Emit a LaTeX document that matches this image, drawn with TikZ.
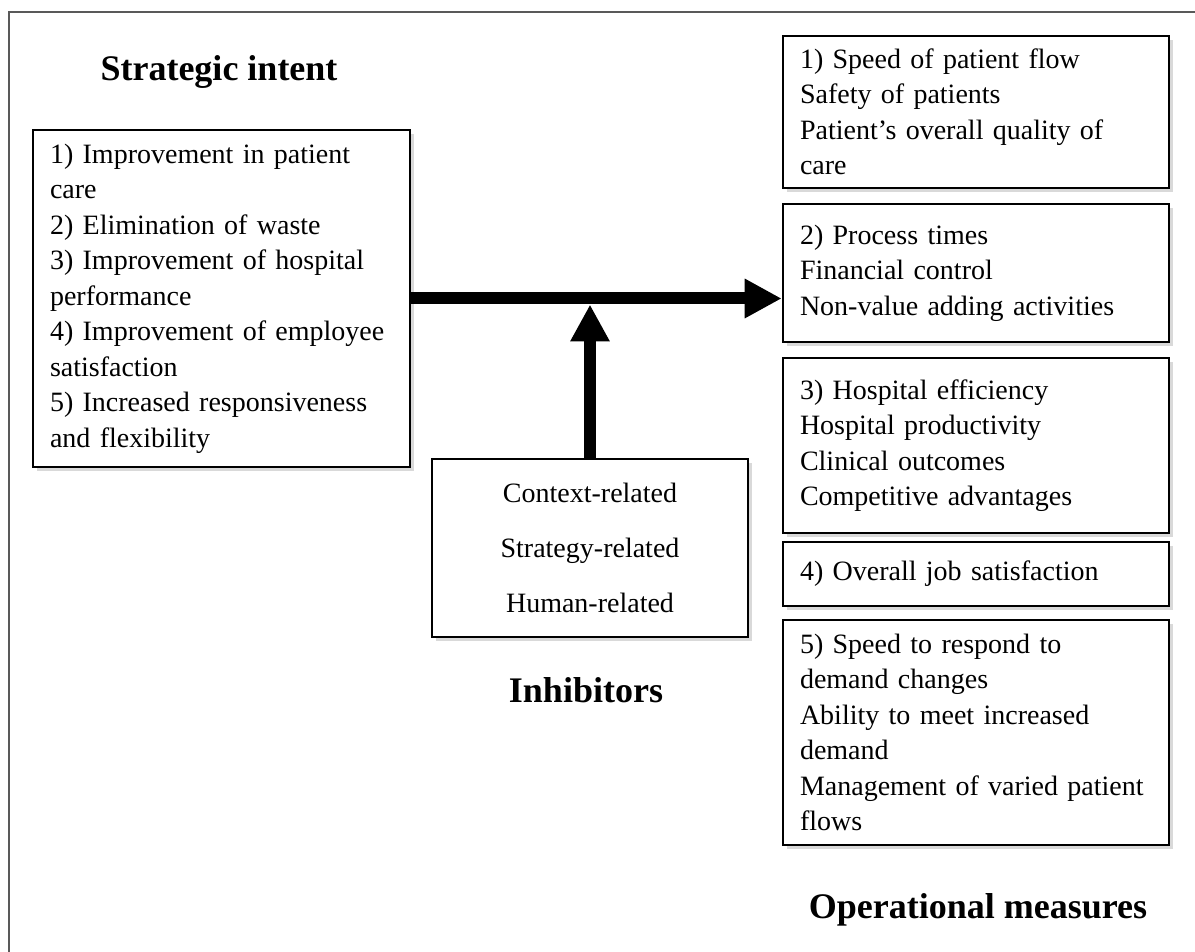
\documentclass[tikz,border=0pt]{standalone}
\usepackage{fontspec}
\setmainfont{Liberation Serif}
\usetikzlibrary{arrows.meta,shadows}
\definecolor{framegray}{RGB}{89,89,89}
\tikzset{
  box/.style={draw,line width=1.3pt,fill=white,inner ysep=4pt,
    execute at begin node={\hyphenpenalty=10000\exhyphenpenalty=10000},
    drop shadow={shadow xshift=1.8pt,shadow yshift=-1.8pt,opacity=0.3}},
  intentbox/.style={box,align=left,inner xsep=8.5pt,text width=171.5pt},
  measbox/.style={box,align=left,inner xsep=8.5pt,text width=176pt},
  inhibbox/.style={box,align=center,inner xsep=10pt,text width=138pt,
    font=\fontsize{14pt}{27.5pt}\selectfont},
  title/.style={font=\fontsize{18pt}{21pt}\selectfont\bfseries},
  fatarrow/.style={line width=6pt,-{Triangle[length=18.5pt,width=18.5pt]}}
}
\begin{document}
\begin{tikzpicture}[x=0.5pt,y=-0.5pt,font=\fontsize{14pt}{17.75pt}\selectfont]
\useasboundingbox (0,0) rectangle (1195,952);
\draw[framegray,line width=1.1pt] (9,952) -- (9,12) -- (1195,12);
\coordinate (C0) at (221.5,298.5);
\coordinate (C1) at (590,548);
\coordinate (M1) at (976,112);
\coordinate (M2) at (976,273);
\coordinate (M3) at (976,445.5);
\coordinate (M4) at (976,574);
\coordinate (M5) at (976,732.5);
\node[title] (intenttitle) at (219,72) {Strategic intent};
\node[title] (inhibtitle) at (586,690) {Inhibitors};
\node[title] (meastitle) at (978,910) {Operational measures};
\node[intentbox,minimum height=168.5pt] (intent) at (C0) {1) Improvement in patient\\ care\\ 2) Elimination of waste\\ 3) Improvement of hospital\\ performance\\ 4) Improvement of employee\\ satisfaction\\ 5) Increased responsiveness\\ and flexibility};
\node[inhibbox,minimum height=89pt] (inhib) at (C1) {Context-related\\ Strategy-related\\ Human-related};
\node[measbox,minimum height=76pt] (meas1) at (M1) {1) Speed of patient flow\\ Safety of patients\\ Patient’s overall quality of\\ care};
\node[measbox,minimum height=69pt] (meas2) at (M2) {2) Process times\\ Financial control\\ Non-value adding activities};
\node[measbox,minimum height=87.5pt] (meas3) at (M3) {3) Hospital efficiency\\ Hospital productivity\\ Clinical outcomes\\ Competitive advantages};
\node[measbox,minimum height=32pt] (meas4) at (M4) {4) Overall job satisfaction};
\node[measbox,minimum height=112.5pt] (meas5) at (M5) {5) Speed to respond to\\ demand changes\\ Ability to meet increased\\ demand\\ Management of varied patient\\ flows};
\draw[fatarrow] (intent.east) -- (intent.east -| meas2.west);
\draw[fatarrow] (inhib.north) -- ([yshift=-3pt]intent.east -| inhib.north);
\end{tikzpicture}
\end{document}
